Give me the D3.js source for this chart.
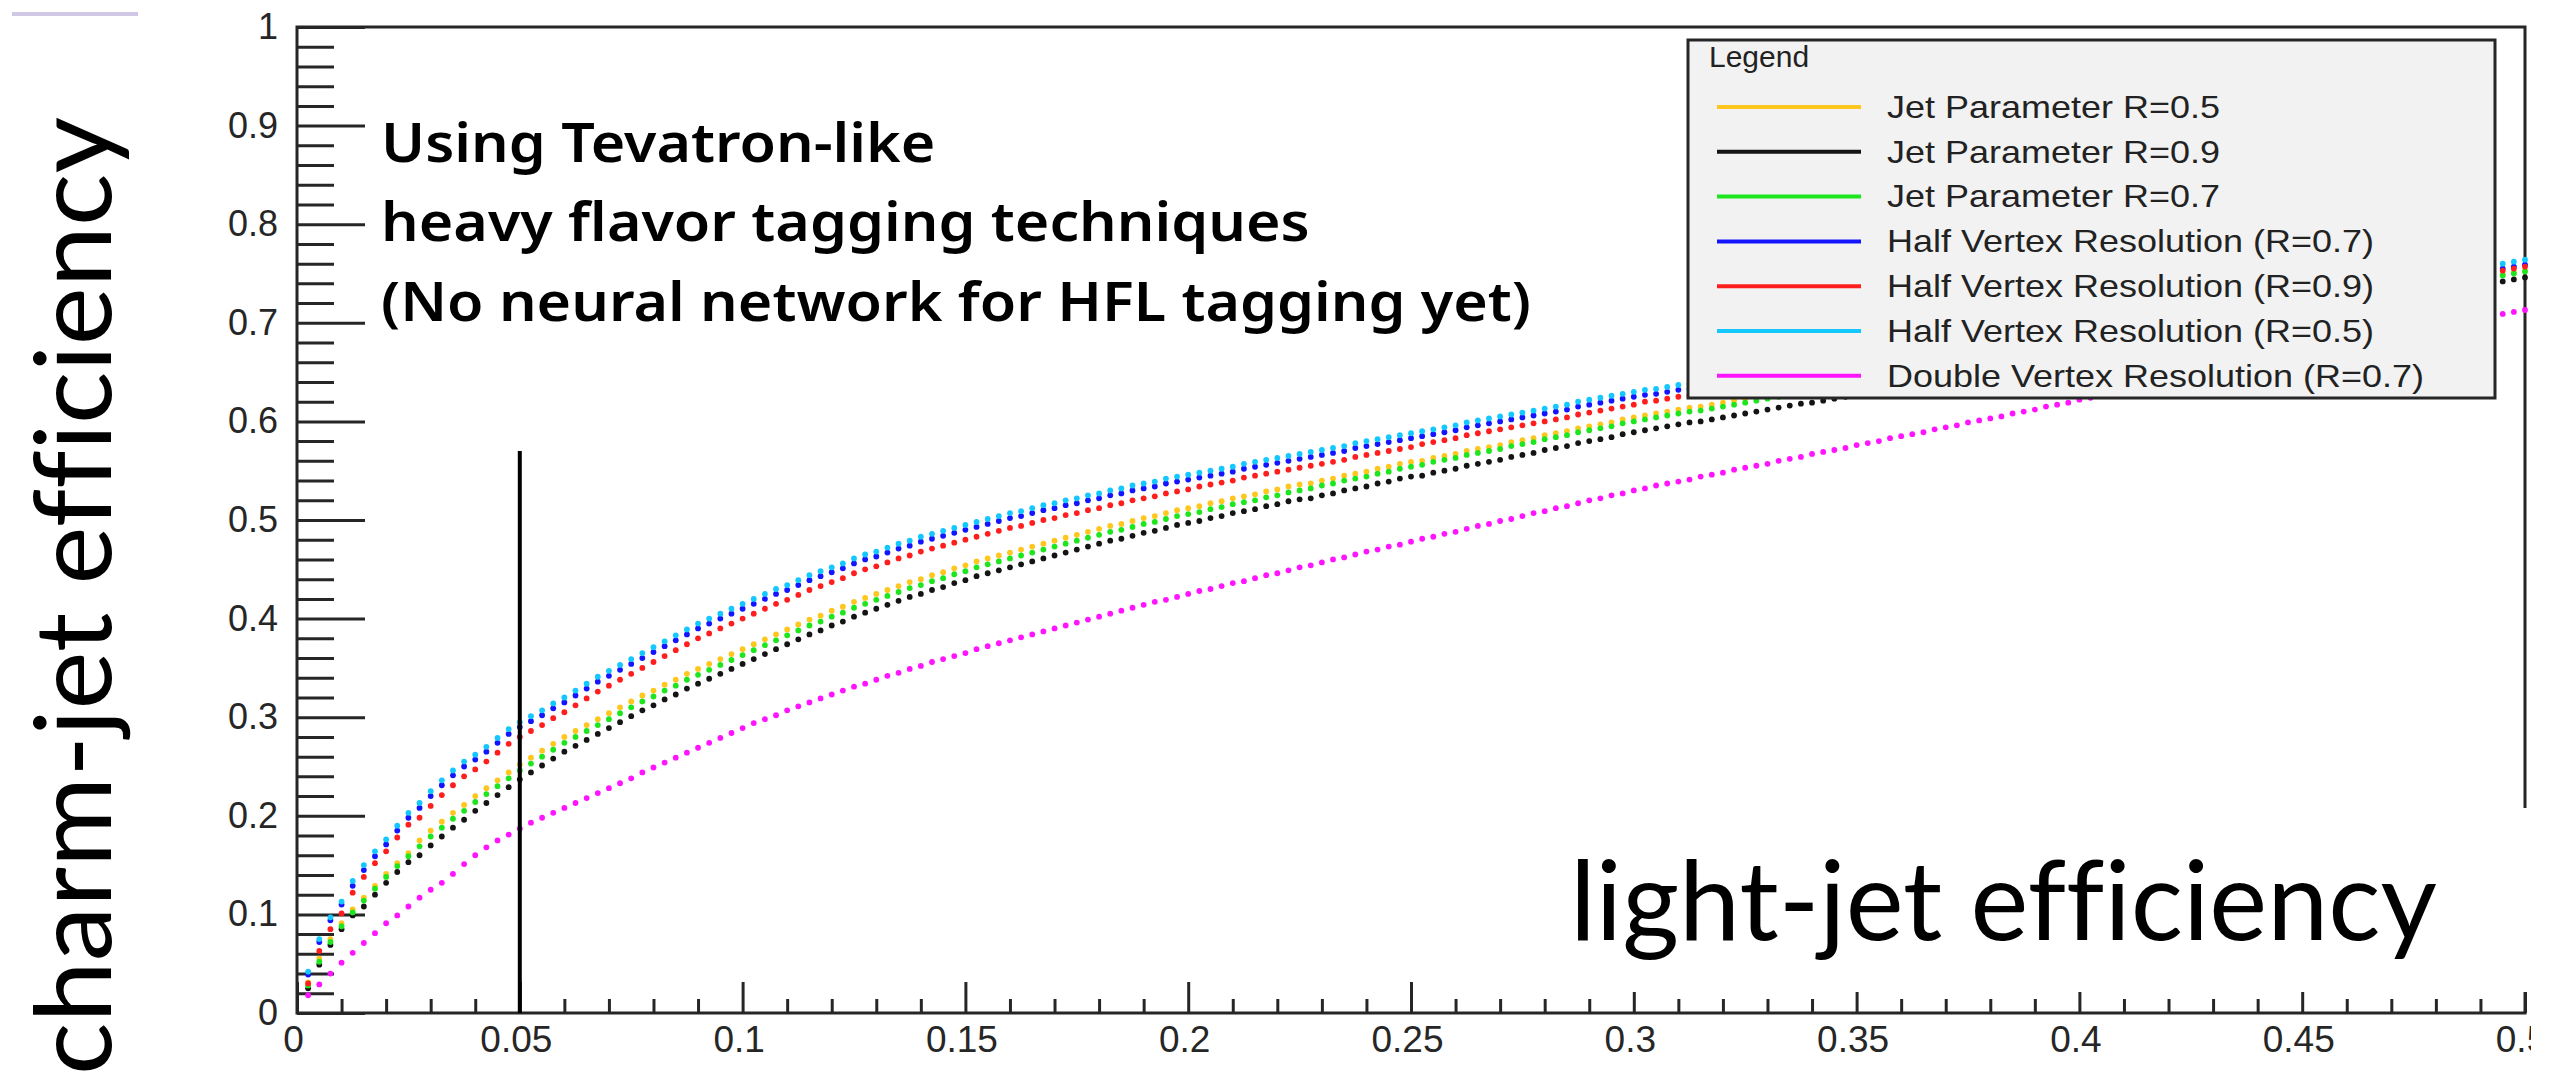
<!DOCTYPE html>
<html>
<head>
<meta charset="utf-8">
<script src="https://cdn.jsdelivr.net/npm/d3@7"></script>
<style>
  html, body { margin: 0; padding: 0; background: #ffffff; }
  svg { display: block; }
  .title { font-variant-ligatures: none; font-feature-settings: "liga" 0, "clig" 0; }
</style>
</head>
<body>
<svg id="chart" width="2558" height="1084"></svg>
<script>
// ---- data -------------------------------------------------------------
// light-jet efficiency at which each working point was evaluated
const lightEff = [
  0.0025,0.005,0.0075,0.01,0.0125,0.015,0.0175,0.02,0.0225,0.025,
  0.0275,0.03,0.0325,0.035,0.0375,0.04,0.0425,0.045,0.0475,0.05,
  0.0525,0.055,0.0575,0.06,0.0625,0.065,0.0675,0.07,0.0725,0.075,
  0.0775,0.08,0.0825,0.085,0.0875,0.09,0.0925,0.095,0.0975,0.1,
  0.1025,0.105,0.1075,0.11,0.1125,0.115,0.1175,0.12,0.1225,0.125,
  0.1275,0.13,0.1325,0.135,0.1375,0.14,0.1425,0.145,0.1475,0.15,
  0.1525,0.155,0.1575,0.16,0.1625,0.165,0.1675,0.17,0.1725,0.175,
  0.1775,0.18,0.1825,0.185,0.1875,0.19,0.1925,0.195,0.1975,0.2,
  0.2025,0.205,0.2075,0.21,0.2125,0.215,0.2175,0.22,0.2225,0.225,
  0.2275,0.23,0.2325,0.235,0.2375,0.24,0.2425,0.245,0.2475,0.25,
  0.2525,0.255,0.2575,0.26,0.2625,0.265,0.2675,0.27,0.2725,0.275,
  0.2775,0.28,0.2825,0.285,0.2875,0.29,0.2925,0.295,0.2975,0.3,
  0.3025,0.305,0.3075,0.31,0.3125,0.315,0.3175,0.32,0.3225,0.325,
  0.3275,0.33,0.3325,0.335,0.3375,0.34,0.3425,0.345,0.3475,0.35,
  0.3525,0.355,0.3575,0.36,0.3625,0.365,0.3675,0.37,0.3725,0.375,
  0.3775,0.38,0.3825,0.385,0.3875,0.39,0.3925,0.395,0.3975,0.4,
  0.4025,0.405,0.4075,0.41,0.4125,0.415,0.4175,0.42,0.4225,0.425,
  0.4275,0.43,0.4325,0.435,0.4375,0.44,0.4425,0.445,0.4475,0.45,
  0.4525,0.455,0.4575,0.46,0.4625,0.465,0.4675,0.47,0.4725,0.475,
  0.4775,0.48,0.4825,0.485,0.4875,0.49,0.4925,0.495,0.4975,0.5
];

// charm-jet efficiency for each configuration
const jetR05 = [
  0.031,0.055,0.075,0.091,0.105,0.117,0.129,0.141,0.152,0.162,
  0.175,0.185,0.194,0.203,0.211,0.220,0.228,0.236,0.244,0.252,
  0.259,0.266,0.273,0.280,0.286,0.292,0.298,0.304,0.310,0.316,
  0.322,0.327,0.333,0.338,0.344,0.349,0.354,0.359,0.364,0.369,
  0.374,0.379,0.384,0.389,0.394,0.399,0.403,0.408,0.412,0.417,
  0.421,0.425,0.429,0.433,0.437,0.440,0.444,0.447,0.451,0.454,
  0.458,0.461,0.464,0.467,0.470,0.473,0.476,0.479,0.482,0.485,
  0.488,0.491,0.494,0.496,0.499,0.502,0.504,0.507,0.510,0.512,
  0.514,0.517,0.519,0.522,0.524,0.526,0.529,0.531,0.534,0.536,
  0.537,0.540,0.542,0.545,0.547,0.549,0.552,0.554,0.557,0.559,
  0.560,0.563,0.565,0.567,0.570,0.572,0.574,0.576,0.579,0.581,
  0.583,0.586,0.588,0.590,0.593,0.595,0.597,0.599,0.602,0.604,
  0.606,0.608,0.610,0.612,0.614,0.615,0.617,0.619,0.621,0.623,
  0.624,0.626,0.628,0.630,0.632,0.633,0.635,0.637,0.639,0.641,
  0.643,0.645,0.647,0.649,0.651,0.652,0.654,0.656,0.658,0.660,
  0.661,0.663,0.665,0.667,0.669,0.670,0.672,0.674,0.676,0.678,
  0.680,0.682,0.684,0.686,0.688,0.689,0.691,0.693,0.695,0.697,
  0.698,0.700,0.702,0.704,0.706,0.707,0.709,0.711,0.713,0.715,
  0.717,0.719,0.721,0.723,0.725,0.726,0.728,0.730,0.732,0.734,
  0.736,0.738,0.740,0.742,0.744,0.745,0.747,0.749,0.751,0.753
];
const jetR09 = [
  0.025,0.049,0.069,0.085,0.099,0.108,0.120,0.132,0.143,0.153,
  0.160,0.170,0.179,0.188,0.196,0.205,0.213,0.221,0.229,0.237,
  0.244,0.251,0.258,0.265,0.271,0.277,0.283,0.289,0.295,0.301,
  0.307,0.312,0.318,0.323,0.329,0.334,0.339,0.344,0.349,0.354,
  0.359,0.364,0.369,0.374,0.379,0.384,0.388,0.393,0.397,0.402,
  0.406,0.410,0.414,0.418,0.422,0.425,0.429,0.432,0.436,0.439,
  0.443,0.446,0.449,0.452,0.455,0.458,0.461,0.464,0.467,0.470,
  0.473,0.476,0.479,0.481,0.484,0.487,0.489,0.492,0.495,0.497,
  0.499,0.502,0.504,0.507,0.509,0.511,0.514,0.516,0.519,0.521,
  0.522,0.525,0.527,0.530,0.532,0.534,0.537,0.539,0.542,0.544,
  0.545,0.548,0.550,0.552,0.555,0.557,0.559,0.561,0.564,0.566,
  0.568,0.571,0.573,0.575,0.578,0.580,0.582,0.584,0.587,0.589,
  0.591,0.593,0.595,0.597,0.599,0.600,0.602,0.604,0.606,0.608,
  0.610,0.612,0.614,0.616,0.618,0.619,0.621,0.623,0.625,0.627,
  0.630,0.632,0.634,0.636,0.638,0.639,0.641,0.643,0.645,0.647,
  0.649,0.651,0.653,0.655,0.657,0.658,0.660,0.662,0.664,0.666,
  0.669,0.671,0.673,0.675,0.677,0.678,0.680,0.682,0.684,0.686,
  0.689,0.691,0.693,0.695,0.697,0.698,0.700,0.702,0.704,0.706,
  0.709,0.711,0.713,0.715,0.717,0.718,0.720,0.722,0.724,0.726,
  0.729,0.731,0.733,0.735,0.737,0.738,0.740,0.742,0.744,0.746
];
const jetR07 = [
  0.028,0.052,0.072,0.088,0.102,0.114,0.126,0.138,0.149,0.159,
  0.169,0.179,0.188,0.197,0.205,0.214,0.222,0.230,0.238,0.246,
  0.253,0.260,0.267,0.274,0.280,0.286,0.292,0.298,0.304,0.310,
  0.316,0.321,0.327,0.332,0.338,0.343,0.348,0.353,0.358,0.363,
  0.368,0.373,0.378,0.383,0.388,0.393,0.397,0.402,0.406,0.411,
  0.415,0.419,0.423,0.427,0.431,0.434,0.438,0.441,0.445,0.448,
  0.452,0.455,0.458,0.461,0.464,0.467,0.470,0.473,0.476,0.479,
  0.482,0.485,0.488,0.490,0.493,0.496,0.498,0.501,0.504,0.506,
  0.508,0.511,0.513,0.516,0.518,0.520,0.523,0.525,0.528,0.530,
  0.532,0.535,0.537,0.540,0.542,0.544,0.547,0.549,0.552,0.554,
  0.556,0.559,0.561,0.563,0.566,0.568,0.570,0.572,0.575,0.577,
  0.579,0.582,0.584,0.586,0.589,0.591,0.593,0.595,0.598,0.600,
  0.602,0.604,0.606,0.608,0.610,0.611,0.613,0.615,0.617,0.619,
  0.621,0.623,0.625,0.627,0.629,0.630,0.632,0.634,0.636,0.638,
  0.640,0.642,0.644,0.646,0.648,0.649,0.651,0.653,0.655,0.657,
  0.659,0.661,0.663,0.665,0.667,0.668,0.670,0.672,0.674,0.676,
  0.678,0.680,0.682,0.684,0.686,0.687,0.689,0.691,0.693,0.695,
  0.697,0.699,0.701,0.703,0.705,0.706,0.708,0.710,0.712,0.714,
  0.716,0.718,0.720,0.722,0.724,0.725,0.727,0.729,0.731,0.733,
  0.735,0.737,0.739,0.741,0.743,0.744,0.746,0.748,0.750,0.752
];
const halfVtxR07 = [
  0.039,0.072,0.094,0.110,0.129,0.145,0.159,0.171,0.185,0.198,
  0.208,0.220,0.231,0.241,0.250,0.257,0.265,0.274,0.283,0.290,
  0.296,0.302,0.309,0.315,0.322,0.329,0.336,0.342,0.348,0.354,
  0.360,0.366,0.372,0.378,0.384,0.390,0.395,0.400,0.405,0.410,
  0.415,0.420,0.425,0.429,0.434,0.439,0.443,0.447,0.451,0.456,
  0.460,0.463,0.467,0.471,0.474,0.478,0.481,0.484,0.487,0.490,
  0.493,0.496,0.499,0.502,0.504,0.507,0.510,0.512,0.515,0.517,
  0.520,0.522,0.525,0.527,0.530,0.532,0.534,0.537,0.539,0.541,
  0.543,0.545,0.547,0.549,0.552,0.554,0.556,0.558,0.560,0.562,
  0.564,0.566,0.568,0.570,0.573,0.575,0.577,0.579,0.581,0.583,
  0.585,0.587,0.589,0.591,0.594,0.596,0.598,0.600,0.602,0.604,
  0.606,0.608,0.610,0.612,0.615,0.617,0.619,0.621,0.623,0.625,
  0.627,0.628,0.630,0.632,0.633,0.635,0.637,0.638,0.640,0.642,
  0.643,0.645,0.647,0.648,0.650,0.652,0.653,0.655,0.657,0.659,
  0.660,0.662,0.664,0.665,0.667,0.669,0.670,0.672,0.674,0.675,
  0.677,0.679,0.680,0.682,0.684,0.685,0.687,0.689,0.690,0.692,
  0.694,0.695,0.697,0.699,0.700,0.702,0.704,0.705,0.707,0.709,
  0.710,0.712,0.714,0.715,0.717,0.719,0.720,0.722,0.724,0.725,
  0.727,0.729,0.730,0.732,0.734,0.735,0.737,0.739,0.740,0.742,
  0.744,0.745,0.747,0.749,0.750,0.752,0.754,0.755,0.757,0.759
];
const halfVtxR09 = [
  0.030,0.063,0.085,0.101,0.122,0.138,0.152,0.164,0.178,0.191,
  0.198,0.210,0.221,0.231,0.240,0.247,0.255,0.264,0.273,0.280,
  0.286,0.292,0.299,0.305,0.312,0.319,0.326,0.332,0.338,0.344,
  0.350,0.356,0.362,0.368,0.374,0.380,0.385,0.390,0.395,0.400,
  0.405,0.410,0.415,0.419,0.424,0.429,0.433,0.437,0.441,0.446,
  0.450,0.453,0.457,0.461,0.464,0.468,0.471,0.474,0.477,0.480,
  0.483,0.486,0.489,0.492,0.494,0.497,0.500,0.502,0.505,0.507,
  0.510,0.512,0.515,0.517,0.520,0.522,0.524,0.527,0.529,0.531,
  0.534,0.536,0.538,0.540,0.543,0.545,0.547,0.549,0.551,0.553,
  0.555,0.557,0.559,0.561,0.564,0.566,0.568,0.570,0.572,0.574,
  0.577,0.579,0.581,0.583,0.586,0.588,0.590,0.592,0.594,0.596,
  0.598,0.600,0.602,0.604,0.607,0.609,0.611,0.613,0.615,0.617,
  0.620,0.621,0.623,0.625,0.626,0.628,0.630,0.631,0.633,0.635,
  0.637,0.639,0.641,0.642,0.644,0.646,0.647,0.649,0.651,0.653,
  0.654,0.656,0.658,0.659,0.661,0.663,0.664,0.666,0.668,0.669,
  0.672,0.674,0.675,0.677,0.679,0.680,0.682,0.684,0.685,0.687,
  0.690,0.691,0.693,0.695,0.696,0.698,0.700,0.701,0.703,0.705,
  0.706,0.708,0.710,0.711,0.713,0.715,0.716,0.718,0.720,0.721,
  0.724,0.726,0.727,0.729,0.731,0.732,0.734,0.736,0.737,0.739,
  0.742,0.743,0.745,0.747,0.748,0.750,0.752,0.753,0.755,0.757
];
const halfVtxR05 = [
  0.042,0.075,0.097,0.113,0.134,0.150,0.164,0.176,0.190,0.203,
  0.213,0.225,0.236,0.246,0.255,0.262,0.270,0.279,0.288,0.295,
  0.301,0.307,0.314,0.320,0.327,0.334,0.341,0.347,0.353,0.359,
  0.365,0.371,0.377,0.383,0.389,0.395,0.400,0.405,0.410,0.415,
  0.420,0.425,0.430,0.434,0.439,0.444,0.448,0.452,0.456,0.461,
  0.465,0.468,0.472,0.476,0.479,0.483,0.486,0.489,0.492,0.495,
  0.498,0.501,0.504,0.507,0.509,0.512,0.515,0.517,0.520,0.522,
  0.525,0.527,0.530,0.532,0.535,0.537,0.539,0.542,0.544,0.546,
  0.548,0.550,0.552,0.554,0.557,0.559,0.561,0.563,0.565,0.567,
  0.569,0.571,0.573,0.575,0.578,0.580,0.582,0.584,0.586,0.588,
  0.590,0.592,0.594,0.596,0.599,0.601,0.603,0.605,0.607,0.609,
  0.611,0.613,0.615,0.617,0.620,0.622,0.624,0.626,0.628,0.630,
  0.632,0.633,0.635,0.637,0.638,0.640,0.642,0.643,0.645,0.647,
  0.648,0.650,0.652,0.653,0.655,0.657,0.658,0.660,0.662,0.664,
  0.665,0.667,0.669,0.670,0.672,0.674,0.675,0.677,0.679,0.680,
  0.682,0.684,0.685,0.687,0.689,0.690,0.692,0.694,0.695,0.697,
  0.699,0.700,0.702,0.704,0.705,0.707,0.709,0.710,0.712,0.714,
  0.715,0.717,0.719,0.720,0.722,0.724,0.725,0.727,0.729,0.730,
  0.732,0.734,0.735,0.737,0.739,0.740,0.742,0.744,0.745,0.747,
  0.749,0.750,0.752,0.754,0.755,0.757,0.759,0.760,0.762,0.764
];
const doubleVtxR07 = [
  0.018,0.029,0.040,0.051,0.061,0.071,0.081,0.091,0.099,0.108,
  0.117,0.125,0.132,0.141,0.151,0.160,0.168,0.175,0.181,0.187,
  0.193,0.198,0.203,0.208,0.213,0.218,0.223,0.228,0.233,0.238,
  0.244,0.249,0.254,0.259,0.264,0.269,0.274,0.279,0.284,0.289,
  0.294,0.298,0.302,0.307,0.311,0.315,0.319,0.323,0.327,0.331,
  0.334,0.338,0.342,0.345,0.349,0.352,0.356,0.359,0.362,0.365,
  0.369,0.372,0.375,0.378,0.381,0.384,0.387,0.390,0.393,0.396,
  0.399,0.402,0.405,0.408,0.411,0.414,0.417,0.419,0.422,0.425,
  0.428,0.430,0.433,0.436,0.438,0.441,0.444,0.446,0.449,0.452,
  0.454,0.457,0.460,0.462,0.465,0.468,0.470,0.473,0.475,0.478,
  0.481,0.483,0.486,0.488,0.491,0.494,0.496,0.499,0.501,0.504,
  0.507,0.509,0.512,0.514,0.517,0.520,0.522,0.525,0.527,0.530,
  0.532,0.535,0.537,0.539,0.541,0.544,0.546,0.548,0.551,0.553,
  0.555,0.557,0.560,0.562,0.564,0.567,0.569,0.571,0.573,0.576,
  0.578,0.580,0.583,0.585,0.587,0.589,0.592,0.594,0.596,0.599,
  0.601,0.603,0.605,0.608,0.610,0.612,0.615,0.617,0.619,0.622,
  0.624,0.626,0.628,0.631,0.633,0.635,0.638,0.640,0.642,0.644,
  0.647,0.649,0.651,0.654,0.656,0.658,0.660,0.663,0.665,0.667,
  0.670,0.672,0.674,0.676,0.679,0.681,0.683,0.686,0.688,0.690,
  0.693,0.695,0.697,0.699,0.702,0.704,0.706,0.709,0.711,0.713
];

// series in legend order
const seriesLabels = [
  "Jet Parameter R=0.5",
  "Jet Parameter R=0.9",
  "Jet Parameter R=0.7",
  "Half Vertex Resolution (R=0.7)",
  "Half Vertex Resolution (R=0.9)",
  "Half Vertex Resolution (R=0.5)",
  "Double Vertex Resolution (R=0.7)"
];
const seriesValues = [jetR05, jetR09, jetR07, halfVtxR07, halfVtxR09, halfVtxR05, doubleVtxR07];
const seriesColors = ["#ffc61e", "#141414", "#1ee61e", "#1414ff", "#ff1e1e", "#14c8ff", "#ff14ff"];

// axes
const xTickValues = [0, 0.05, 0.1, 0.15, 0.2, 0.25, 0.3, 0.35, 0.4, 0.45, 0.5];
const xTickLabels = ["0", "0.05", "0.1", "0.15", "0.2", "0.25", "0.3", "0.35", "0.4", "0.45", "0.5"];
const xMinorTicks = [0.01,0.02,0.03,0.04,0.06,0.07,0.08,0.09,0.11,0.12,0.13,0.14,0.16,0.17,0.18,0.19,
  0.21,0.22,0.23,0.24,0.26,0.27,0.28,0.29,0.31,0.32,0.33,0.34,0.36,0.37,0.38,0.39,
  0.41,0.42,0.43,0.44,0.46,0.47,0.48,0.49];
const yTickValues = [0, 0.1, 0.2, 0.3, 0.4, 0.5, 0.6, 0.7, 0.8, 0.9, 1];
const yTickLabels = ["0", "0.1", "0.2", "0.3", "0.4", "0.5", "0.6", "0.7", "0.8", "0.9", "1"];
const yMinorTicks = [0.02,0.04,0.06,0.08,0.12,0.14,0.16,0.18,0.22,0.24,0.26,0.28,0.32,0.34,0.36,0.38,
  0.42,0.44,0.46,0.48,0.52,0.54,0.56,0.58,0.62,0.64,0.66,0.68,0.72,0.74,0.76,0.78,
  0.82,0.84,0.86,0.88,0.92,0.94,0.96,0.98];

// working-point marker: light-jet efficiency 5%, drawn up to 0.57
const markerLightEff = 0.05;
const markerTop = 0.57;

const annotationLines = [
  "Using Tevatron-like",
  "heavy flavor tagging techniques",
  "(No neural network for HFL tagging yet)"
];
const xTitle = "light-jet efficiency";
const yTitle = "charm-jet efficiency";

// ---- drawing ----------------------------------------------------------
const svg = d3.select("#chart");
const frame = { left: 297, right: 2525, top: 27, bottom: 1013 };
const axisColor = "#262626";
const tickFont = "'Liberation Sans', Arial, Helvetica, sans-serif";

const x = d3.scaleLinear().domain([0, 0.5]).range([frame.left, frame.right]);
const y = d3.scaleLinear().domain([0, 1]).range([frame.bottom, frame.top]);

// small accent rule in the top-left corner
svg.append("rect")
  .attr("x", 12).attr("y", 12).attr("width", 126).attr("height", 4)
  .attr("fill", "#cfc7e3");

function styleAxis(g) {
  g.select(".domain").remove();
  g.selectAll(".tick line").attr("stroke", axisColor).attr("stroke-width", 3);
  g.selectAll(".tick text")
    .attr("fill", "#262626")
    .style("font-family", tickFont);
}

// x axis: minor then major ticks pointing into the frame
svg.append("g")
  .attr("transform", `translate(0,${frame.bottom})`)
  .call(d3.axisBottom(x).tickValues(xMinorTicks).tickSize(-14).tickFormat(""))
  .call(styleAxis);

svg.append("g")
  .attr("transform", `translate(0,${frame.bottom})`)
  .call(d3.axisBottom(x).tickValues(xTickValues).tickSize(-31).tickPadding(13)
    .tickFormat((d, i) => xTickLabels[i]))
  .call(styleAxis)
  .call(g => g.selectAll(".tick text").attr("dx", -4).style("font-size", "37px"));

// y axis
svg.append("g")
  .attr("transform", `translate(${frame.left},0)`)
  .call(d3.axisLeft(y).tickValues(yMinorTicks).tickSize(-37).tickFormat(""))
  .call(styleAxis);

svg.append("g")
  .attr("transform", `translate(${frame.left},0)`)
  .call(d3.axisLeft(y).tickValues(yTickValues).tickSize(-68).tickPadding(19)
    .tickFormat((d, i) => yTickLabels[i]))
  .call(styleAxis)
  .call(g => g.selectAll(".tick text").style("font-size", "36px"));

// frame
svg.append("rect")
  .attr("x", frame.left).attr("y", frame.top)
  .attr("width", frame.right - frame.left).attr("height", frame.bottom - frame.top)
  .attr("fill", "none").attr("stroke", axisColor).attr("stroke-width", 3);

// efficiency curves as dotted markers
seriesValues.forEach((vals, si) => {
  svg.append("g")
    .selectAll("circle")
    .data(vals.map((v, i) => [lightEff[i], v]))
    .join("circle")
    .attr("cx", d => x(d[0]))
    .attr("cy", d => y(d[1]))
    .attr("r", 2.9)
    .attr("fill", seriesColors[si]);
});

// vertical working-point line
svg.append("line")
  .attr("x1", x(markerLightEff)).attr("x2", x(markerLightEff))
  .attr("y1", y(0)).attr("y2", y(markerTop))
  .attr("stroke", "#000").attr("stroke-width", 4);

// legend box
const legend = svg.append("g");
legend.append("rect")
  .attr("x", 1688).attr("y", 40).attr("width", 807).attr("height", 358)
  .attr("fill", "#f2f2f2").attr("stroke", axisColor).attr("stroke-width", 3);
legend.append("text")
  .attr("x", 1709).attr("y", 67)
  .style("font-family", tickFont).style("font-size", "30px")
  .attr("fill", "#222").text("Legend");

const legendFontSize = 32;
const probe = legend.append("text")
  .style("font-family", tickFont).style("font-size", legendFontSize + "px")
  .text(seriesLabels[0]);
const legendStretch = 333 / probe.node().getComputedTextLength();
probe.remove();

seriesLabels.forEach((label, i) => {
  const ly = 107 + i * 44.8;
  legend.append("line")
    .attr("x1", 1717).attr("x2", 1861).attr("y1", ly).attr("y2", ly)
    .attr("stroke", seriesColors[i]).attr("stroke-width", 4);
  const t = legend.append("text")
    .attr("x", 1887).attr("y", ly).attr("dy", "0.34em")
    .style("font-family", tickFont).style("font-size", legendFontSize + "px")
    .attr("fill", "#222").text(label);
  const w = t.node().getComputedTextLength();
  t.attr("textLength", w * legendStretch).attr("lengthAdjust", "spacingAndGlyphs");
});

// annotation
const annoBaselines = [162, 241, 321];
const annoTargetWidth = 1150;
const annoFont = "'Noto Sans', 'Open Sans', sans-serif";
const annoProbe = svg.append("text")
  .style("font-family", annoFont).style("font-size", "54px").style("font-weight", 600)
  .text(annotationLines[2]);
const annoScale = annoTargetWidth / annoProbe.node().getComputedTextLength();
annoProbe.remove();
annotationLines.forEach((line, i) => {
  const t = svg.append("text")
    .attr("x", 381).attr("y", annoBaselines[i])
    .style("font-family", annoFont).style("font-size", "54px").style("font-weight", 600)
    .attr("fill", "#000").text(line);
  const w = t.node().getComputedTextLength();
  t.attr("textLength", w * annoScale).attr("lengthAdjust", "spacingAndGlyphs");
});

// white text box carrying the x-axis title (covers the frame edge beneath it)
svg.append("rect")
  .attr("x", 1530).attr("y", 808).attr("width", 1028).attr("height", 184)
  .attr("fill", "#ffffff");
svg.append("rect")
  .attr("x", 2531).attr("y", 992).attr("width", 27).attr("height", 92)
  .attr("fill", "#ffffff");

svg.append("text")
  .attr("class", "title")
  .attr("x", 1570).attr("y", 940)
  .attr("textLength", 867).attr("lengthAdjust", "spacingAndGlyphs")
  .style("font-family", "Lato, 'Open Sans', sans-serif").style("font-size", "110px")
  .attr("fill", "#000").text(xTitle);

svg.append("text")
  .attr("class", "title")
  .attr("transform", "translate(111,117) rotate(-90)")
  .attr("text-anchor", "end")
  .attr("textLength", 958).attr("lengthAdjust", "spacingAndGlyphs")
  .style("font-family", "Lato, 'Open Sans', sans-serif").style("font-size", "107px")
  .attr("fill", "#000").text(yTitle);
</script>
</body>
</html>
